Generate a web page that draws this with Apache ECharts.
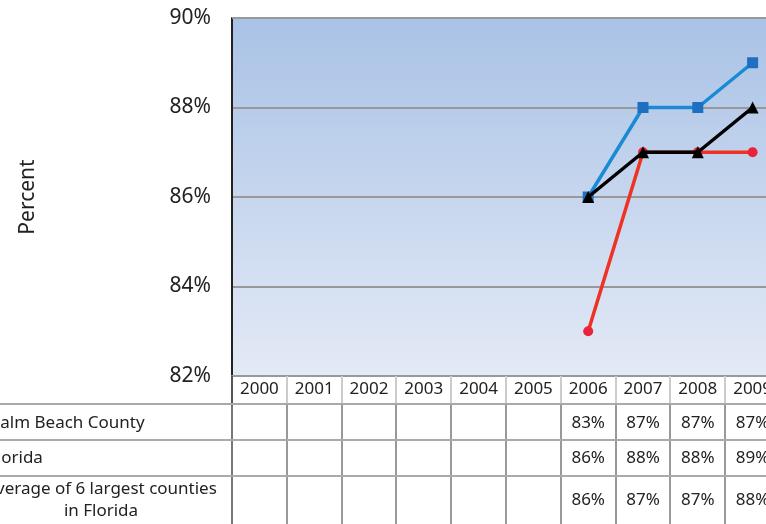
<!DOCTYPE html>
<html><head><meta charset="utf-8">
<script src="https://cdn.jsdelivr.net/npm/echarts@6/dist/echarts.min.js"></script>
<style>html,body{margin:0;padding:0;background:#fff;overflow:hidden;width:766px;height:524px}#c{width:780px;height:524px}</style>
</head><body><div id="c"></div>
<script>
const years = ['2000','2001','2002','2003','2004','2005','2006','2007','2008','2009'];
const palmBeach = [null,null,null,null,null,null,83,87,87,87];
const florida = [null,null,null,null,null,null,86,88,88,89];
const avgLargest = [null,null,null,null,null,null,86,87,87,88];
const rowLabels = ['Palm Beach County','Florida','Average of 6 largest counties\nin Florida'];
const yTicks = [82,84,86,88,90];

const FONT = '"Noto Sans", "Open Sans", sans-serif';
const chart = echarts.init(document.getElementById('c'));
const gridLeft = 232, gridTop = 18, gridH = 358, gridRight = 0;
const option = {
  animation: false,
  grid: {left: gridLeft, top: gridTop, right: gridRight, height: gridH,
    show: true, borderWidth: 0,
    backgroundColor: {type:'linear', x:0, y:0, x2:0, y2:1,
      colorStops:[{offset:0,color:'#a9c2e6'},{offset:1,color:'#e4eaf6'}]}},
  xAxis: {type:'category', data: years, boundaryGap: true,
    axisLine:{show:true, lineStyle:{color:'#999', width:2}},
    axisTick:{show:false},
    axisLabel:{fontSize:17, color:'#222', fontFamily:FONT, margin:5},
    splitLine:{show:false}},
  yAxis: {type:'value', min: yTicks[0], max: yTicks[yTicks.length-1], interval: 2,
    name:'Percent', nameLocation:'middle', nameGap: 193, nameRotate: 90,
    nameTextStyle:{fontSize:21, color:'#222', fontFamily:FONT},
    axisLine:{show:true, lineStyle:{color:'#222', width:2}},
    axisTick:{show:false},
    axisLabel:{formatter:'{value}%', fontSize:21, color:'#222', fontFamily:FONT, margin:21},
    splitLine:{show:true, lineStyle:{color:'#999', width:2}}},
  series: [
    {name:'Palm Beach County', type:'line', data: palmBeach, symbol:'circle', symbolSize:10,
      lineStyle:{color:'#ee3224', width:3.5}, itemStyle:{color:'#e8233a'}, z:2},
    {name:'Florida', type:'line', data: florida, symbol:'rect', symbolSize:11,
      lineStyle:{color:'#1a8ad4', width:3.5}, itemStyle:{color:'#1f6fc0'}, z:3},
    {name:'Average of 6 largest counties in Florida', type:'line', data: avgLargest, symbol:'triangle', symbolSize:12,
      lineStyle:{color:'#000', width:3.5}, itemStyle:{color:'#000'}, z:4}
  ]
};
chart.setOption(option);

const rows = [palmBeach, florida, avgLargest];
const rowTops = [404, 440, 476];
const rowCenters = [423, 458, 500];
const gfx = [];
const bottom = gridTop + gridH;
const c0 = chart.convertToPixel({xAxisIndex:0}, years[0]);
const c1 = chart.convertToPixel({xAxisIndex:0}, years[1]);
const band = c1 - c0;
const txt = (s) => Object.assign({fill:'#222', fontSize:17, fontFamily:FONT, textVerticalAlign:'middle'}, s);
for (let i = 0; i <= years.length; i++) {
  const x = Math.round(c0 - band/2 + i*band);
  gfx.push({type:'line', shape:{x1:x, y1:bottom, x2:x, y2:rowTops[0]}, style:{stroke: i===0 ? '#555' : '#ccc', lineWidth:2}, z:10});
  gfx.push({type:'line', shape:{x1:x, y1:rowTops[0], x2:x, y2:524}, style:{stroke: i===0 ? '#777' : '#999', lineWidth:2}, z:10});
}
rowTops.forEach(y => gfx.push({type:'line', shape:{x1:0, y1:y, x2:780, y2:y}, style:{stroke:'#aaa', lineWidth:2}, z:10}));
rows.forEach((r, ri) => {
  r.forEach((v, i) => {
    if (v == null) return;
    const x = chart.convertToPixel({xAxisIndex:0}, years[i]);
    gfx.push({type:'text', x: x, y: rowCenters[ri], style: txt({text: v + '%', textAlign:'center'}), z:11});
  });
});
gfx.push({type:'text', x:-10, y:rowCenters[0], style: txt({text: rowLabels[0], textAlign:'left'}), z:11});
gfx.push({type:'text', x:-12, y:rowCenters[1], style: txt({text: rowLabels[1], textAlign:'left'}), z:11});
gfx.push({type:'text', x:101, y:rowCenters[2], style: txt({text: rowLabels[2], textAlign:'center', lineHeight:22}), z:11});
gfx.push({type:'line', shape:{x1:gridLeft, y1:gridTop, x2:780, y2:gridTop}, style:{stroke:'#999', lineWidth:2}, z:5});
chart.setOption({graphic: gfx});
</script></body></html>
